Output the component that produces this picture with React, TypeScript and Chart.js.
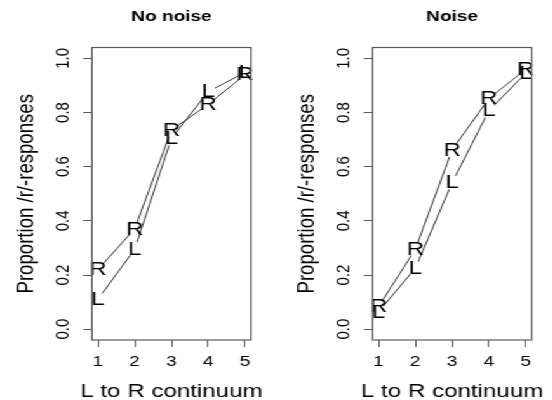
import { useEffect, useRef } from "react";
import { Chart, registerables } from "chart.js";

Chart.register(...registerables);

// ---- data ----
const continuum = [1, 2, 3, 4, 5];
const xTickLabels = ["1", "2", "3", "4", "5"];
const yTickValues = [0, 0.2, 0.4, 0.6, 0.8, 1.0];
const yTickLabels = ["0.0", "0.2", "0.4", "0.6", "0.8", "1.0"];
const seriesLetters = ["R", "L"];

const noNoiseR = [0.22, 0.37, 0.735, 0.83, 0.94];
const noNoiseL = [0.11, 0.295, 0.705, 0.877, 0.948];
const noiseR = [0.083, 0.295, 0.662, 0.852, 0.959];
const noiseL = [0.064, 0.225, 0.541, 0.807, 0.945];

const panelTitles = ["No noise", "Noise"];
const xAxisTitle = "L to R continuum";
const yAxisTitle = "Proportion /r/-responses";

// ---- presentation ----
const S = 1.27; // horizontal stretch of the original picture
const FONT = "'Liberation Sans', Arial, Helvetica, sans-serif";
const PANEL_W = 220;
const PANEL_H = 400;
const GAP_R = 7.5;

const gapPlugin = {
  id: "gapPlugin",
  beforeDatasetDraw(chart: any, args: any) {
    const ctx = chart.ctx;
    ctx.save();
    ctx.beginPath();
    ctx.rect(0, 0, chart.width, chart.height);
    for (const el of args.meta.data) {
      ctx.moveTo(el.x + GAP_R / S, el.y);
      ctx.ellipse(el.x, el.y, GAP_R / S, GAP_R, 0, 0, Math.PI * 2);
    }
    ctx.clip("evenodd");
  },
  afterDatasetDraw(chart: any) {
    chart.ctx.restore();
  },
};

const overlayPlugin = {
  id: "overlayPlugin",
  afterDraw(chart: any) {
    const ctx = chart.ctx;
    const a = chart.chartArea;
    // letters as point symbols
    ctx.save();
    ctx.fillStyle = "#000";
    ctx.font = `19px ${FONT}`;
    ctx.textAlign = "center";
    ctx.textBaseline = "middle";
    chart.data.datasets.forEach((_ds: any, di: number) => {
      const meta = chart.getDatasetMeta(di);
      meta.data.forEach((el: any) => {
        ctx.fillText(seriesLetters[di], el.x, el.y + 0.5);
      });
    });
    ctx.restore();
    // box
    ctx.save();
    ctx.strokeStyle = "#5a5a5a";
    ctx.lineWidth = 1.2;
    ctx.strokeRect(a.left, a.top, a.right - a.left, a.bottom - a.top);
    ctx.restore();
    // rotated y tick labels
    const ys = chart.scales.y;
    ctx.save();
    ctx.fillStyle = "#000";
    ctx.font = `15px ${FONT}`;
    ctx.textAlign = "center";
    ctx.textBaseline = "middle";
    ys.ticks.forEach((t: any, i: number) => {
      const py = ys.getPixelForValue(t.value);
      ctx.save();
      ctx.translate(49.8, py);
      ctx.rotate(-Math.PI / 2);
      ctx.fillText(yTickLabels[i], 0, 0);
      ctx.restore();
    });
    ctx.restore();
    // x axis title (drawn without width compression)
    ctx.save();
    ctx.fillStyle = "#000";
    ctx.font = `19px ${FONT}`;
    ctx.textAlign = "center";
    ctx.textBaseline = "middle";
    ctx.fillText(xAxisTitle, (a.left + a.right) / 2, 391.5);
    ctx.restore();
  },
};

function Panel({ title, r, l }: { title: string; r: number[]; l: number[] }) {
  const ref = useRef<HTMLCanvasElement | null>(null);
  useEffect(() => {
    if (!ref.current) return;
    const lineDs = (vals: number[], label: string) => ({
      label,
      data: continuum.map((x, i) => ({ x, y: vals[i] })),
      borderColor: "#333333",
      borderWidth: 1,
      pointRadius: 0,
      pointHoverRadius: 0,
      fill: false,
      tension: 0,
    });
    const chart = new Chart(ref.current, {
      type: "line",
      data: { datasets: [lineDs(r, "R"), lineDs(l, "L")] },
      options: {
        responsive: false,
        animation: false,
        events: [],
        layout: { padding: { left: 0, right: PANEL_W - 197.6, top: 0, bottom: 0 } },
        plugins: {
          legend: { display: false },
          tooltip: { enabled: false },
          title: {
            display: true,
            text: title,
            fullSize: false,
            color: "#000",
            font: { family: FONT, size: 15, weight: "bold", lineHeight: 1.2 },
            padding: { top: 8, bottom: 21.5 },
          },
        },
        scales: {
          x: {
            type: "linear",
            min: 0.84,
            max: 5.16,
            afterBuildTicks: (s: any) => {
              s.ticks = continuum.map((v) => ({ value: v }));
            },
            afterFit: (s: any) => {
              s.height = 60;
            },
            grid: { drawOnChartArea: false, drawTicks: true, tickLength: 7, color: "#5a5a5a", lineWidth: 1 },
            border: { display: false },
            ticks: {
              color: "#000",
              font: { family: FONT, size: 15 },
              padding: 6.2,
              maxRotation: 0,
              autoSkip: false,
              callback: (_v: any, i: number) => xTickLabels[i],
            },
            title: { display: false },
          },
          y: {
            type: "linear",
            min: -0.04,
            max: 1.04,
            afterBuildTicks: (s: any) => {
              s.ticks = yTickValues.map((v) => ({ value: v }));
            },
            afterFit: (s: any) => {
              s.width = 72.4;
            },
            grid: { drawOnChartArea: false, drawTicks: true, tickLength: 7, color: "#5a5a5a", lineWidth: 1 },
            border: { display: false },
            ticks: { display: false },
            title: {
              display: true,
              text: yAxisTitle,
              color: "#000",
              font: { family: FONT, size: 18.6, lineHeight: 1 },
              padding: { top: 11.5, bottom: 0 },
            },
          },
        },
      } as any,
      plugins: [gapPlugin, overlayPlugin],
    });
    return () => chart.destroy();
  }, [title, r, l]);
  return <canvas ref={ref} width={PANEL_W} height={PANEL_H} style={{ display: "block" }} />;
}

export default function App() {
  return (
    <div
      style={{
        position: "fixed",
        left: 0,
        top: 0,
        width: 552,
        height: 400,
        overflow: "hidden",
        background: "#fff",
      }}
    >
      <div
        style={{
          position: "absolute",
          left: 0,
          top: 0,
          width: 552 / S,
          height: 400,
          transform: `scaleX(${S})`,
          transformOrigin: "0 0",
        }}
      >
        <div style={{ position: "absolute", left: 0, top: 0, width: PANEL_W, height: PANEL_H }}>
          <Panel title={panelTitles[0]} r={noNoiseR} l={noNoiseL} />
        </div>
        <div style={{ position: "absolute", left: 220.5, top: 0, width: PANEL_W, height: PANEL_H }}>
          <Panel title={panelTitles[1]} r={noiseR} l={noiseL} />
        </div>
      </div>
    </div>
  );
}
